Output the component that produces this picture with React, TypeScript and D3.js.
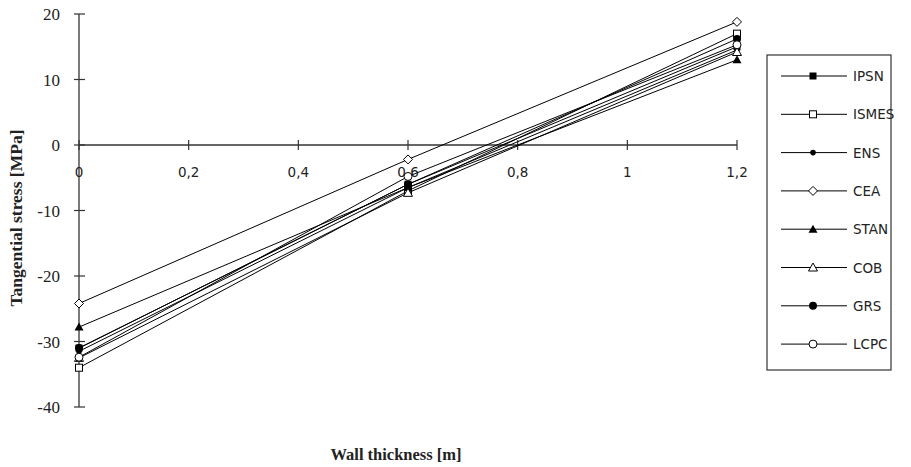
import React from "react";
import * as d3 from "d3";

const xValues = [0, 0.6, 1.2];
const seriesNames = ["IPSN", "ISMES", "ENS", "CEA", "STAN", "COB", "GRS", "LCPC"];
const ipsn = [-31, -6, 15];
const ismes = [-34, -7, 17];
const ens = [-31.5, -6.5, 14.5];
const cea = [-24.2, -2.2, 18.8];
const stan = [-27.8, -6.5, 13];
const cob = [-32.5, -7.3, 14.2];
const grs = [-31, -6, 16.2];
const lcpc = [-32.4, -4.8, 15.3];
const markers = ["squareF", "square", "dot", "diamond", "triF", "tri", "circleF", "circle"];
const xTicks = [0, 0.2, 0.4, 0.6, 0.8, 1, 1.2];
const yTicks = [20, 10, 0, -10, -20, -30, -40];

const allSeries = [ipsn, ismes, ens, cea, stan, cob, grs, lcpc];

function Marker({ kind, x, y }: { kind: string; x: number; y: number }) {
  const s = 3.5;
  switch (kind) {
    case "squareF":
      return <rect x={x - s} y={y - s} width={2 * s} height={2 * s} fill="#000" />;
    case "square":
      return <rect x={x - s} y={y - s} width={2 * s} height={2 * s} fill="#fff" stroke="#000" strokeWidth={1} />;
    case "dot":
      return <circle cx={x} cy={y} r={2.8} fill="#000" />;
    case "diamond":
      return <path d={`M${x},${y - 4.5}L${x + 4.5},${y}L${x},${y + 4.5}L${x - 4.5},${y}Z`} fill="#fff" stroke="#000" strokeWidth={1} />;
    case "triF":
      return <path d={`M${x},${y - 4.5}L${x + 4.5},${y + 3.5}L${x - 4.5},${y + 3.5}Z`} fill="#000" />;
    case "tri":
      return <path d={`M${x},${y - 4.5}L${x + 4.5},${y + 3.5}L${x - 4.5},${y + 3.5}Z`} fill="#fff" stroke="#000" strokeWidth={1} />;
    case "circleF":
      return <circle cx={x} cy={y} r={4} fill="#000" />;
    default:
      return <circle cx={x} cy={y} r={4} fill="#fff" stroke="#000" strokeWidth={1} />;
  }
}

export default function App() {
  const width = 911,
    height = 467;
  const x = d3.scaleLinear().domain([0, 1.2]).range([79, 737]);
  const y = d3.scaleLinear().domain([-40, 20]).range([407, 14]);
  const line = d3
    .line<number>()
    .x((d, i) => x(xValues[i]))
    .y((d) => y(d));

  const legendX = 767,
    legendY = 55,
    legendW = 124,
    legendH = 315,
    legendStep = 38.3;

  return (
    <div style={{ position: "absolute", left: 0, top: 0 }}>
      <svg width={width} height={height} style={{ display: "block", background: "#fff" }}>
        {/* axes */}
        <line x1={x(0)} x2={x(1.2)} y1={y(0)} y2={y(0)} stroke="#333" strokeWidth={1.3} />
        <line x1={x(0)} x2={x(0)} y1={y(20)} y2={y(-40)} stroke="#333" strokeWidth={1.3} />
        {yTicks.map((t) => (
          <g key={"y" + t}>
            <line x1={x(0) - 5} x2={x(0) + 6} y1={y(t)} y2={y(t)} stroke="#333" strokeWidth={1.2} />
            <text
              x={60}
              y={y(t) + 6}
              textAnchor="end"
              fontFamily="Liberation Serif, serif"
              fontSize={17}
              fill="#222"
            >
              {t}
            </text>
          </g>
        ))}
        {xTicks.map((t) => (
          <g key={"x" + t}>
            <line x1={x(t)} x2={x(t)} y1={y(0) - 5} y2={y(0) + 5} stroke="#333" strokeWidth={1.2} />
            <text
              x={x(t)}
              y={y(0) + 32}
              textAnchor="middle"
              fontFamily="DejaVu Sans, sans-serif"
              fontSize={13.5}
              fill="#222"
            >
              {String(t).replace(".", ",")}
            </text>
          </g>
        ))}
        {/* series */}
        {allSeries.map((s, i) => (
          <g key={seriesNames[i]}>
            <path d={line(s) || ""} fill="none" stroke="#000" strokeWidth={1} />
            {s.map((v, j) => (
              <Marker key={j} kind={markers[i]} x={x(xValues[j])} y={y(v)} />
            ))}
          </g>
        ))}
        {/* axis titles */}
        <text
          transform={`translate(22,218) rotate(-90)`}
          textAnchor="middle"
          fontFamily="Liberation Serif, serif"
          fontWeight="bold"
          fontSize={17.5}
          fill="#222"
        >
          Tangential stress [MPa]
        </text>
        <text
          x={396}
          y={460}
          textAnchor="middle"
          fontFamily="Liberation Serif, serif"
          fontWeight="bold"
          fontSize={16.5}
          fill="#222"
        >
          Wall thickness [m]
        </text>
        {/* legend */}
        <rect x={legendX} y={legendY} width={legendW} height={legendH} fill="#fff" stroke="#333" strokeWidth={1.2} />
        {seriesNames.map((n, i) => {
          const ly = legendY + 21 + i * legendStep;
          return (
            <g key={"l" + n}>
              <line x1={legendX + 14} x2={legendX + 80} y1={ly} y2={ly} stroke="#000" strokeWidth={1} />
              <Marker kind={markers[i]} x={legendX + 46} y={ly} />
              <text
                x={legendX + 86}
                y={ly + 5}
                fontFamily="DejaVu Sans, sans-serif"
                fontSize={13.5}
                fill="#222"
              >
                {n}
              </text>
            </g>
          );
        })}
      </svg>
    </div>
  );
}
